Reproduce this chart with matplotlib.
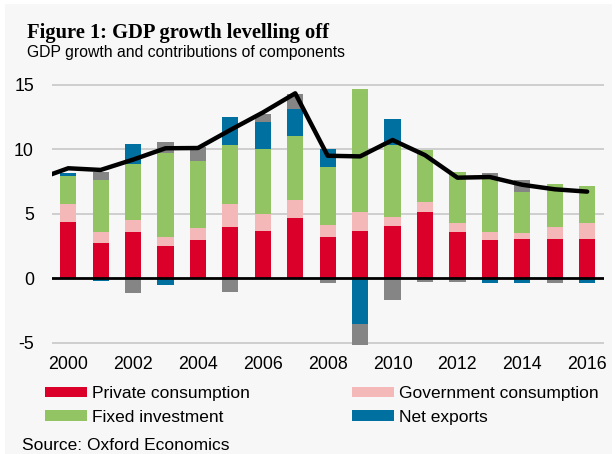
import matplotlib
matplotlib.use('Agg')
import matplotlib.pyplot as plt
from matplotlib.patches import Patch, Rectangle
import numpy as np

plt.rcParams['font.family'] = ['Liberation Sans', 'DejaVu Sans']
plt.rcParams['axes.unicode_minus'] = False

years = [2000, 2001, 2002, 2003, 2004, 2005, 2006, 2007, 2008,
         2009, 2010, 2011, 2012, 2013, 2014, 2015, 2016]
private = [4.39, 2.76, 3.61, 2.48, 2.97, 3.98, 3.69, 4.65, 3.23,
           3.67, 4.08, 5.16, 3.56, 2.97, 3.07, 3.07, 3.07]
government = [1.37, 0.83, 0.91, 0.75, 0.91, 1.75, 1.27, 1.42, 0.93,
              1.50, 0.70, 0.78, 0.75, 0.62, 0.44, 0.91, 1.19]
fixed = [2.19, 4.06, 4.36, 6.51, 5.19, 4.60, 5.04, 4.98, 4.44,
         9.50, 5.55, 4.01, 3.91, 4.08, 3.18, 3.35, 2.89]
net_exports = [0.21, -0.21, 1.51, -0.52, 0.0, 2.20, 2.14, 2.05, 1.40,
               -3.54, 1.99, 0.0, 0.0, -0.34, -0.34, 0.0, -0.39]
other = [0.0, 0.57, -1.16, 0.85, 1.13, -1.09, 0.57, 1.16, -0.39,
         -1.63, -1.68, -0.31, -0.31, 0.47, 0.93, -0.34, 0.0]
gdp_years = [1999, 2000, 2001, 2002, 2003, 2004, 2005, 2006, 2007, 2008,
             2009, 2010, 2011, 2012, 2013, 2014, 2015, 2016]
gdp = [7.63, 8.53, 8.40, 9.20, 10.08, 10.10, 11.50, 12.85, 14.34, 9.50,
       9.45, 10.72, 9.55, 7.80, 7.85, 7.25, 6.90, 6.72]

series = [
    (private, '#DB0029', 'Private consumption'),
    (government, '#F5B8B8', 'Government consumption'),
    (fixed, '#93C464', 'Fixed investment'),
    (net_exports, '#0070A1', 'Net exports'),
    (other, '#858585', None),
]

W, H = 615, 454
fig = plt.figure(figsize=(W / 100, H / 100), dpi=100, facecolor='white')
fig.patches.append(Rectangle((5 / W, 0), (W - 8) / W, (H - 4) / H,
                             transform=fig.transFigure, facecolor='#F7F7F7',
                             edgecolor='none', zorder=-10))

ax = fig.add_axes([52 / W, 1 - 349.25 / H, 552 / W, (349.25 - 78.35) / H])
ax.set_facecolor('none')

x = np.array(years, dtype=float)
pos = np.zeros(len(years))
neg = np.zeros(len(years))
for vals, color, label in series:
    v = np.array(vals, dtype=float)
    p = np.where(v > 0, v, 0)
    n = np.where(v < 0, v, 0)
    ax.bar(x, p, bottom=pos, width=0.5, color=color, edgecolor='none', zorder=2)
    ax.bar(x, n, bottom=neg, width=0.5, color=color, edgecolor='none', zorder=2)
    pos += p
    neg += n

ax.plot(gdp_years, gdp, color='black', lw=3.2, solid_capstyle='round',
        solid_joinstyle='round', zorder=4)
ax.axhline(0, color='black', lw=2.0, zorder=3)

ax.set_xlim(1999.5, 2016.52)
ax.set_ylim(-5.5, 15.5)
ax.set_yticks([-5, 0, 5, 10, 15])
ax.set_xticks(list(range(2000, 2017, 2)))
for yv in [-5, 5, 10, 15]:
    ax.axhline(yv, color='#C8C8C8', lw=1.2, zorder=1)
for s in ax.spines.values():
    s.set_visible(False)
ax.tick_params(axis='both', length=0, labelsize=12.8, colors='black')
ax.tick_params(axis='y', pad=13)
ax.tick_params(axis='x', pad=5)

fig.text(26.7 / W, 1 - 37.7 / H, 'Figure 1: GDP growth levelling off',
         family='Liberation Serif', weight='bold', fontsize=14.8,
         va='baseline', ha='left')
fig.text(26.7 / W, 1 - 56.7 / H, 'GDP growth and contributions of components',
         fontsize=11.3, va='baseline', ha='left')
fig.text(21.7 / W, 1 - 449.5 / H, 'Source: Oxford Economics',
         fontsize=12.5, va='baseline', ha='left')

handles = [Patch(facecolor=c, edgecolor='none', label=l) for _, c, l in series if l]
common = dict(frameon=False, fontsize=12.5, handlelength=2.4, handleheight=0.55,
              handletextpad=0.33, labelspacing=0.5, borderpad=0, borderaxespad=0,
              loc='upper left', bbox_transform=fig.transFigure)
leg1 = fig.legend(handles=[handles[0], handles[2]], bbox_to_anchor=(45 / W, 1 - 386 / H), **common)
leg2 = fig.legend(handles=[handles[1], handles[3]], bbox_to_anchor=(352 / W, 1 - 386 / H), **common)

fig.savefig('out.png', dpi=100, facecolor=fig.get_facecolor())
